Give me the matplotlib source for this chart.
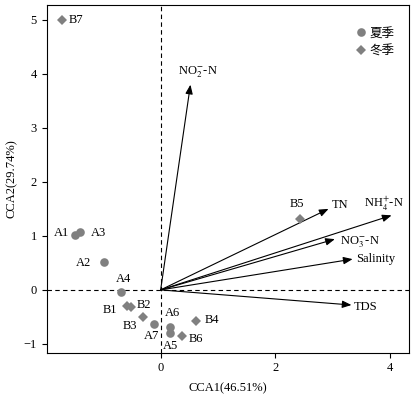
import matplotlib
matplotlib.use("Agg")
import matplotlib.pyplot as plt

plt.rcParams['font.family'] = ['Liberation Serif', 'Noto Sans CJK SC', 'DejaVu Sans']
plt.rcParams['mathtext.fontset'] = 'stix'
plt.rcParams['axes.unicode_minus'] = True

# Sites: summer (A) and winter (B)
summer_names = ['A1', 'A2', 'A3', 'A4', 'A5', 'A6', 'A7']
summer_x = [-1.49, -0.99, -1.40, -0.69, 0.17, 0.17, -0.12]
summer_y = [1.02, 0.51, 1.07, -0.04, -0.79, -0.68, -0.63]

winter_names = ['B1', 'B2', 'B3', 'B4', 'B5', 'B6', 'B7']
winter_x = [-0.58, -0.52, -0.31, 0.62, 2.43, 0.37, -1.72]
winter_y = [-0.30, -0.31, -0.51, -0.57, 1.31, -0.86, 5.00]

# Environmental vectors
env_names = ['NO$_2^{-}$-N', 'TN', 'NH$_4^{+}$-N', 'NO$_3^{-}$-N', 'Salinity', 'TDS']
env_x = [0.52, 2.93, 4.03, 3.04, 3.35, 3.33]
env_y = [3.80, 1.50, 1.38, 0.94, 0.57, -0.28]

legend_labels = ['夏季', '冬季']
xlabel = 'CCA1(46.51%)'
ylabel = 'CCA2(29.74%)'

# label offsets in points (layout)
px = 0.72
site_offsets = {
    'B7': ((7, 0), 'left'), 'A1': ((-6, 2), 'right'), 'A3': ((10, -1), 'left'),
    'A2': ((-13, -1), 'right'), 'A4': ((2, 13), 'center'), 'B1': ((-10, -4), 'right'),
    'B2': ((6, 2), 'left'), 'B3': ((-6, -9), 'right'), 'A7': ((5, -12), 'right'),
    'A6': ((2, 14), 'center'), 'A5': ((0, -13), 'center'), 'B6': ((7, -3), 'left'),
    'B4': ((9, 1), 'left'), 'B5': ((-3, 15), 'center'),
}
env_offsets = [((7, 12), 'center'), ((3, 4), 'left'), ((-8, 11), 'center'),
               ((5, -3), 'left'), ((4, 0), 'left'), ((2, -2), 'left')]

gray = '#808080'
fig = plt.figure(figsize=(4.16, 3.97), dpi=100)
ax = fig.add_axes([0.112, 0.112, 0.872, 0.876])

ax.axhline(0, color='black', ls=(0, (4, 3)), lw=0.8, zorder=1)
ax.axvline(0, color='black', ls=(0, (4, 3)), lw=0.8, zorder=1)

ax.plot(summer_x, summer_y, 'o', color=gray, ms=6.2, mew=0, label=legend_labels[0], zorder=3)
ax.plot(winter_x, winter_y, 'D', color=gray, ms=4.6, mew=0, label=legend_labels[1], zorder=3)

fs = 9
for n, x, y in zip(summer_names + winter_names, summer_x + winter_x, summer_y + winter_y):
    (dx, dy), ha = site_offsets[n]
    ax.annotate(n, (x, y), xytext=(dx * px, dy * px), textcoords='offset points',
                ha=ha, va='center', fontsize=fs)

for (n, x, y), ((dx, dy), ha) in zip(zip(env_names, env_x, env_y), env_offsets):
    ax.annotate('', xy=(x, y), xytext=(0, 0),
                arrowprops=dict(arrowstyle='-|>,head_length=0.55,head_width=0.22',
                                color='black', lw=0.8,
                                mutation_scale=10, shrinkA=0, shrinkB=0), zorder=2)
    ax.annotate(n, (x, y), xytext=(dx * px, dy * px), textcoords='offset points',
                ha=ha, va='center', fontsize=fs)

ax.set_xlim(-1.99, 4.34)
ax.set_ylim(-1.16, 5.28)
ax.set_xticks([0, 2, 4])
ax.set_yticks([-1, 0, 1, 2, 3, 4, 5])
ax.tick_params(direction='out', length=3.5, width=0.8, labelsize=fs)
ax.set_xlabel(xlabel, fontsize=fs, labelpad=6)
ax.set_ylabel(ylabel, fontsize=fs, labelpad=4)
for s in ax.spines.values():
    s.set_linewidth(0.8)

leg = ax.legend(loc='upper right', bbox_to_anchor=(0.99, 0.97), frameon=False,
                fontsize=fs, handletextpad=0.2, labelspacing=0.4, handlelength=1.0,
                prop={'family': ['Noto Sans CJK SC'], 'size': fs})

fig.savefig('out.png', dpi=100)
